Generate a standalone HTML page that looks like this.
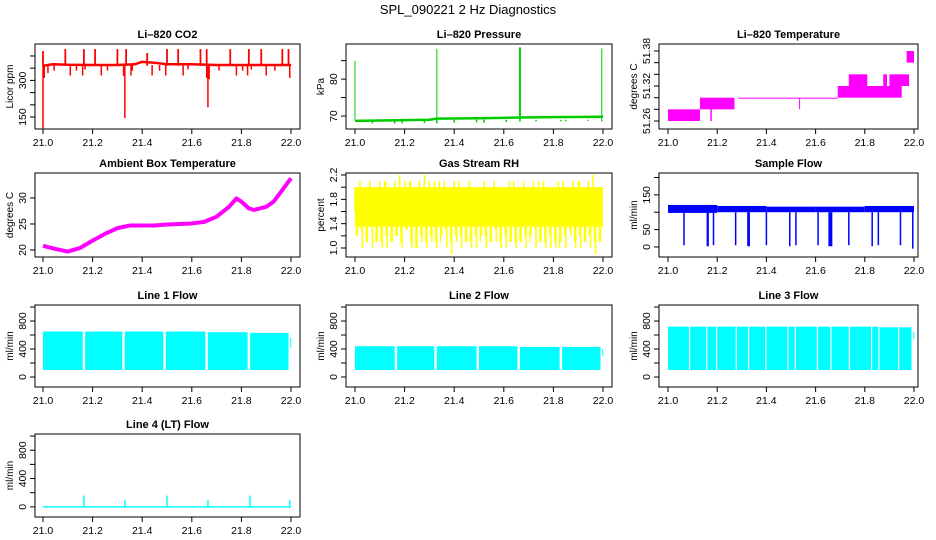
<!DOCTYPE html>
<html><head><meta charset="utf-8"><style>
body{margin:0;background:#fff}
svg{display:block;font-family:"Liberation Sans",Arial,sans-serif}
</style></head><body>
<svg id="c" width="936" height="540" viewBox="0 0 936 540">
<rect width="936" height="540" fill="#fff"/>
<text x="468" y="14" font-size="13" text-anchor="middle">SPL_090221  2 Hz Diagnostics</text>
</svg>
<script>
// ---- data ----
const xTicks=[21.0,21.2,21.4,21.6,21.8,22.0];
const xTickLabels=["21.0","21.2","21.4","21.6","21.8","22.0"];
// CO2
const co2BaseX=[21.0,21.04,21.1,21.2,21.3,21.37,21.4,21.45,21.5,21.6,21.63,21.7,21.8,21.9,21.99];
const co2BaseY=[360,366,364,363,363,366,376,372,366,366,365,363,363,363,363];
const co2UpX=[21.0,21.09,21.165,21.21,21.30,21.335,21.42,21.50,21.545,21.635,21.66,21.755,21.83,21.88,21.965,21.99];
const co2UpY=[420,428,428,428,428,428,412,428,428,428,428,428,428,428,428,428];
const co2DnX=[21.0,21.005,21.02,21.045,21.11,21.135,21.16,21.17,21.235,21.26,21.325,21.33,21.355,21.36,21.44,21.47,21.495,21.565,21.585,21.66,21.665,21.67,21.71,21.78,21.805,21.825,21.84,21.9,21.935,21.995];
const co2DnY=[104,310,330,340,320,340,320,345,320,340,318,146,320,340,320,340,320,320,345,310,190,305,340,320,340,320,345,320,340,310];
// Pressure
const presBaseX=[21.0,21.1,21.3,21.33,21.5,21.665,21.8,22.0];
const presBaseY=[68.7,68.8,69.0,69.3,69.4,69.6,69.7,69.8];
const presSpikeX=[21.0,21.33,21.665,21.995];
const presSpikeY=[85.0,88.2,88.6,88.3];
const presDnX=[21.07,21.16,21.19,21.28,21.33,21.40,21.49,21.52,21.61,21.665,21.73,21.83,21.85,21.94,21.995];
const presDnY=[68.0,68.0,68.0,68.1,68.0,68.2,68.3,68.2,68.4,68.5,68.6,68.6,68.6,68.7,68.6];
// Li-820 temperature segments [x0,x1,lo,hi]
const tSegX0=[21.0,21.13,21.26,21.285,21.69,21.735,21.875,21.9,21.97];
const tSegX1=[21.13,21.26,21.27,21.69,21.95,21.81,21.89,21.98,22.0];
const tSegLo=[51.26,51.28,51.28,51.30,51.30,51.32,51.32,51.32,51.36];
const tSegHi=[51.28,51.30,51.30,51.30,51.32,51.34,51.34,51.34,51.38];
// Ambient box temperature
const ambX=[21.0,21.05,21.1,21.15,21.2,21.25,21.3,21.35,21.4,21.45,21.5,21.55,21.6,21.65,21.7,21.75,21.78,21.8,21.83,21.85,21.9,21.93,21.96,22.0];
const ambY=[20.8,20.2,19.7,20.4,21.8,23.1,24.2,24.7,24.7,24.7,24.9,25.0,25.1,25.4,26.4,28.3,29.9,29.3,28.0,27.7,28.3,29.3,31.2,33.8];
// Gas stream RH per bin (0.02 wide)
const rhLo=[1.2,1.0,1.1,1.0,1.1,1.0,1.0,1.1,1.2,1.0,1.3,1.0,1.0,1.1,1.0,1.1,1.0,1.2,1.0,0.9,1.1,1.0,1.1,1.0,1.0,1.2,1.0,1.1,1.1,1.0,1.0,1.1,1.0,1.1,1.0,1.2,1.0,1.1,1.0,1.0,1.0,1.1,1.0,1.2,1.0,1.0,1.1,1.0,0.9,1.1];
const rhHi=[2.0,2.1,2.0,2.1,2.0,2.1,2.1,2.0,2.1,2.2,2.1,2.1,2.0,2.1,2.2,2.1,2.1,2.1,2.1,2.0,2.1,2.1,2.0,2.1,2.0,2.0,2.1,2.0,2.1,2.0,2.0,2.1,2.1,2.0,2.1,2.0,2.1,2.1,2.1,2.0,1.9,2.1,2.1,2.0,2.1,2.1,2.0,2.1,2.2,2.0];
// Sample flow
const sfBandLo=[98,100,100,100,100];
const sfBandHi=[121,118,116,116,118];
const sfDipX=[21.065,21.16,21.163,21.185,21.275,21.325,21.33,21.40,21.495,21.52,21.61,21.655,21.66,21.665,21.735,21.83,21.855,21.945,21.995];
const sfDipY=[5,2,2,5,5,2,2,5,2,5,5,2,2,2,5,2,5,5,-5];
// Line flows: segments [x0,x1], lo/hi
const l1X0=[21.0,21.17,21.33,21.495,21.665,21.835,21.997];
const l1X1=[21.16,21.32,21.485,21.655,21.825,21.99,22.0];
const l1Lo=[100,100,100,100,100,100,420];
const l1Hi=[650,650,650,650,640,630,560];
const l2X0=[21.0,21.17,21.33,21.50,21.665,21.835,21.997];
const l2X1=[21.16,21.32,21.49,21.655,21.825,21.99,22.0];
const l2Lo=[100,100,100,100,100,100,300];
const l2Hi=[440,440,440,440,430,430,400];
const l3X0=[21.0,21.09,21.16,21.2,21.28,21.33,21.4,21.49,21.52,21.61,21.665,21.74,21.83,21.86,21.94,21.997];
const l3X1=[21.085,21.155,21.195,21.275,21.325,21.395,21.485,21.515,21.605,21.66,21.735,21.825,21.855,21.935,21.99,22.0];
const l3Lo=[100,100,100,100,100,100,100,100,100,100,100,100,100,100,100,540];
const l3Hi=[720,720,720,720,720,720,720,720,720,720,720,720,720,710,710,640];
const l4SpikeX=[21.165,21.33,21.5,21.665,21.835,21.995];
const l4SpikeY=[160,95,160,95,160,95];

// ---- layout ----
const NS="http://www.w3.org/2000/svg";
const svg=document.getElementById('c');
const cols=[{bl:35,br:300,xl:43,xr:291},{bl:346,br:612,xl:355,xr:603},{bl:659,br:918,xl:668,xr:914}];
const rows=[{t:44,b:129},{t:173,b:257},{t:305,b:387},{t:434,b:517}];
function el(tag,attrs,parent){const e=document.createElementNS(NS,tag);for(const k in attrs)e.setAttribute(k,attrs[k]);(parent||svg).appendChild(e);return e;}
function panel(ci,ri,name,title,ylab,ymin,ymax,yt,ytl){
  const c=cols[ci],r=rows[ri];
  const g=el('g',{});
  
  
  const sx=v=>c.xl+(v-21)*(c.xr-c.xl);
  const sy=v=>r.b-(v-ymin)/(ymax-ymin)*(r.b-r.t);
  const t=el('text',{x:(c.bl+c.br)/2,y:r.t-6,'font-size':11,'font-weight':'bold','text-anchor':'middle'},g);t.textContent=title;
  
  
  const yl=el('text',{x:0,y:0,'font-size':10,'text-anchor':'middle',transform:`translate(${c.bl-22},${(r.t+r.b)/2}) rotate(-90)`},g);yl.textContent=ylab;
  
  
  const plot=el('g',{},g);
  
  
  const box=el('rect',{x:c.bl,y:r.t,width:c.br-c.bl,height:r.b-r.t,fill:'none',stroke:'#000','stroke-width':1},g);
  
  
  xTicks.forEach((v,i)=>{const x=sx(v);el('line',{x1:x,x2:x,y1:r.b,y2:r.b+5,stroke:'#000'},g);
    const tl=el('text',{x:x,y:r.b+17,'font-size':10.5,'text-anchor':'middle'},g);tl.textContent=xTickLabels[i];
    
    });
  yt.forEach((v,i)=>{const y=sy(v);el('line',{x1:c.bl-5,x2:c.bl,y1:y,y2:y,stroke:'#000'},g);
    if(ytl[i]){const tl=el('text',{x:0,y:0,'font-size':10.5,'text-anchor':'middle',transform:`translate(${c.bl-9},${y}) rotate(-90)`},g);tl.textContent=ytl[i];
    
    }});
  return {sx,sy,g:plot};
}
function vline(p,x,y1,y2,col,w){el('line',{x1:p.sx(x),x2:p.sx(x),y1:p.sy(y1),y2:p.sy(y2),stroke:col,'stroke-width':w||1},p.g);}
function seg(p,x0,x1,lo,hi,col){el('rect',{x:p.sx(x0),y:p.sy(hi),width:Math.max(1,p.sx(x1)-p.sx(x0)),height:Math.max(1,p.sy(lo)-p.sy(hi)),fill:col},p.g);}
function poly(p,xs,ys,col,w){el('polyline',{points:xs.map((x,i)=>p.sx(x)+','+p.sy(ys[i])).join(' '),fill:'none',stroke:col,'stroke-width':w,'stroke-linejoin':'round'},p.g);}

// CO2
let p=panel(0,0,'co2-panel','Li\u2013820 CO2','Licor ppm',101,449,[150,200,250,300,350,400],['150','','','300','','']);
poly(p,co2BaseX.concat([22.0]),co2BaseY.concat([363]),'#f00',2.5);
co2UpX.forEach((x,i)=>vline(p,x,co2BaseY[0],co2UpY[i],'#f00',1.8));
co2DnX.forEach((x,i)=>vline(p,x,363,co2DnY[i],'#f00',1.5));
// Pressure
p=panel(1,0,'pressure-panel','Li\u2013820 Pressure','kPa',66.5,89.5,[70,75,80,85],['70','','80','']);
poly(p,presBaseX,presBaseY,'#0c0',2.5);
presSpikeX.forEach((x,i)=>vline(p,x,69,presSpikeY[i],'#0c0',i==2?2:1));
presDnX.forEach((x,i)=>vline(p,x,69,presDnY[i],'#0c0',1.5));
// Temperature
p=panel(2,0,'li820-temperature-panel','Li\u2013820 Temperature','degrees C',51.2463,51.392,[51.26,51.28,51.30,51.32,51.34,51.36,51.38],['51.26','','','51.32','','','51.38']);
tSegX0.forEach((x,i)=>seg(p,x,tSegX1[i],tSegLo[i],tSegHi[i],'#f0f'));
vline(p,21.535,51.28,51.30,'#f0f',1);
vline(p,21.175,51.26,51.28,'#f0f',1.5);
// Ambient
p=panel(0,1,'ambient-temperature-panel','Ambient Box Temperature','degrees C',18.65,34.8,[20,25,30],['20','25','30']);
poly(p,ambX,ambY,'#f0f',4);
// RH
p=panel(1,1,'rh-panel','Gas Stream RH','percent',0.852,2.233,[1.0,1.2,1.4,1.6,1.8,2.0,2.2],['1.0','','1.4','','1.8','','2.2']);
seg(p,21.0,22.0,1.35,2.0,'#ff0');
rhLo.forEach((v,i)=>{const x=21+i*0.02;vline(p,x,1.6,rhHi[i],'#ff0',1.5);vline(p,x+0.01,v,1.6,'#ff0',1.5);vline(p,x+0.005,rhLo[(i+7)%50]+0.1,rhHi[(i+3)%50]-0.1,'#ff0',1.2);});
// Sample flow
p=panel(2,1,'sample-flow-panel','Sample Flow','ml/min',-29,213,[0,50,100,150,200],['0','50','','150','']);
sfBandLo.forEach((v,i)=>seg(p,21+i*0.2,21+(i+1)*0.2,v,sfBandHi[i],'#00f'));
sfDipX.forEach((x,i)=>vline(p,x,100,sfDipY[i],'#00f',1.5));
// Line flows
const lineSets=[[l1X0,l1X1,l1Lo,l1Hi,'line-1-flow-panel','Line 1 Flow',0,2],[l2X0,l2X1,l2Lo,l2Hi,'line-2-flow-panel','Line 2 Flow',1,2],[l3X0,l3X1,l3Lo,l3Hi,'line-3-flow-panel','Line 3 Flow',2,2]];
lineSets.forEach(s=>{const q=panel(s[6],s[7],s[4],s[5],'ml/min',-143,1029,[0,200,400,600,800,1000],['0','','400','','800','']);
  s[0].forEach((x,i)=>seg(q,x,s[1][i],s[2][i],s[3][i],'#0ff'));});
p=panel(0,3,'line-4-flow-panel','Line 4 (LT) Flow','ml/min',-143,1029,[0,200,400,600,800,1000],['0','','400','','800','']);
seg(p,21.0,22.0,-10,10,'#0ff');
l4SpikeX.forEach((x,i)=>vline(p,x,0,l4SpikeY[i],'#0ff',1.5));
</script>
</body></html>
